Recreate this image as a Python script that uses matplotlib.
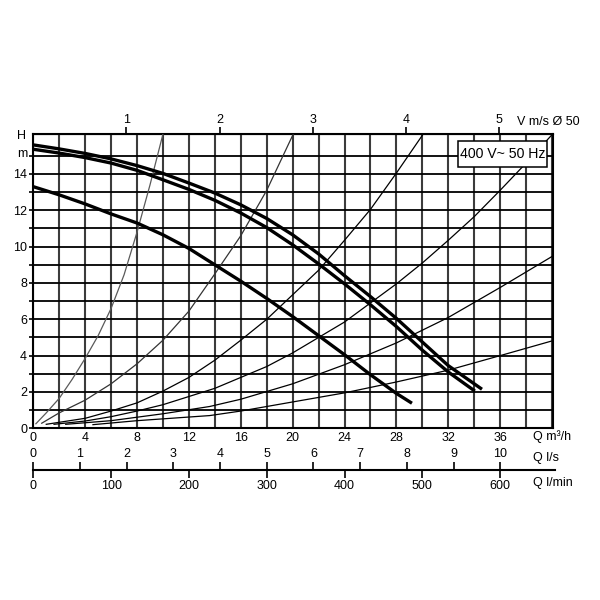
import numpy as np
import matplotlib
matplotlib.use('Agg')
from matplotlib import pyplot as plt
from matplotlib.patches import Rectangle

plt.rcParams['font.family'] = ['Liberation Sans', 'DejaVu Sans']

# pump curves, Q in m3/h, H in m
q_a = [0, 2, 4, 6, 8, 10, 12, 14, 16, 18, 20, 22, 24, 26, 28, 30, 32, 34.6]
h_a = [15.6, 15.38, 15.13, 14.83, 14.46, 14.03, 13.5, 12.95, 12.3, 11.55,
       10.65, 9.6, 8.4, 7.25, 6.05, 4.75, 3.45, 2.15]
q_b = [0, 2, 4, 6, 8, 10, 12, 14, 16, 18, 20, 22, 24, 26, 28, 30, 32, 34.05]
h_b = [15.36, 15.15, 14.9, 14.6, 14.2, 13.68, 13.15, 12.55, 11.85, 11.05,
       10.1, 9.05, 7.95, 6.8, 5.6, 4.3, 3.1, 2.05]
q_c = [0, 2, 4, 6, 8, 10, 12, 14, 16, 18, 20, 22, 24, 26, 28, 29.2]
h_c = [13.3, 12.85, 12.35, 11.8, 11.3, 10.65, 9.9, 9.0, 8.1, 7.15,
       6.15, 5.1, 4.05, 2.95, 1.92, 1.38]

# system curves (thin)
q_s1 = [0.2, 1.0, 2.0, 3.0, 4.0, 5.0, 6.0, 7.0, 8.0, 9.0, 10.0]
h_s1 = [0.25, 0.85, 1.65, 2.7, 3.85, 5.1, 6.6, 8.45, 10.8, 13.4, 16.2]
q_s2 = [0.65, 2, 4, 6, 8, 10, 12, 14, 16, 18, 20.05]
h_s2 = [0.28, 0.85, 1.55, 2.45, 3.55, 4.85, 6.45, 8.5, 10.6, 13.1, 16.2]
q_s3 = [1.0, 4, 6, 8, 10, 12, 14, 16, 18, 20, 22, 24, 26, 28, 30.07]
h_s3 = [0.22, 0.55, 0.95, 1.4, 2.05, 2.8, 3.75, 4.85, 6.0, 7.35, 8.7,
        10.35, 12.05, 14.05, 16.2]
q_s4 = [1.6, 4, 6, 8, 10, 12, 14, 16, 18, 20, 22, 24, 26, 28, 30, 32, 34,
        36, 38, 40.05]
h_s4 = [0.22, 0.4, 0.64, 0.95, 1.3, 1.75, 2.2, 2.8, 3.4, 4.15, 5.0, 5.85,
        6.9, 7.95, 9.1, 10.35, 11.65, 13.1, 14.6, 16.2]
q_s5 = [2.5, 6, 10, 13.6, 16, 20, 24, 28, 32, 36, 40.1]
h_s5 = [0.22, 0.42, 0.8, 1.2, 1.6, 2.45, 3.5, 4.7, 6.1, 7.75, 9.5]
q_s6 = [4.6, 8, 10, 13.6, 16, 20, 24, 28, 32, 36, 40.1]
h_s6 = [0.2, 0.42, 0.52, 0.7, 0.95, 1.45, 1.95, 2.55, 3.2, 4.0, 4.83]

q_ticks = [0, 4, 8, 12, 16, 20, 24, 28, 32, 36]
h_ticks = [0, 2, 4, 6, 8, 10, 12, 14]
v_ticks = [1, 2, 3, 4, 5]
ls_ticks = [0, 1, 2, 3, 4, 5, 6, 7, 8, 9, 10]
lmin_ticks = [0, 100, 200, 300, 400, 500, 600]

QMAX, HMAX = 40.1, 16.2
V_FACT = 7.18  # m3/h per m/s in DN50

fig = plt.figure(figsize=(6, 6), dpi=100)
px = lambda v: v / 600.0
L, R = px(33.3), px(553.3)
ax = fig.add_axes([L, 1 - px(428.3), R - L, px(428.3 - 134)])
ax.set_xlim(0, QMAX)
ax.set_ylim(0, HMAX)

ax.set_xticks(q_ticks)
ax.set_xticks(np.arange(0, 41, 2), minor=True)
ax.set_yticks(h_ticks)
ax.set_yticks(np.arange(0, 16, 1), minor=True)
ax.grid(which='both', axis='x', color='#3c3c3c', lw=1.5)
ax.grid(which='both', axis='y', color='k', lw=1.3)
ax.set_axisbelow(True)
for s in ax.spines.values():
    s.set_linewidth(1.5)
ax.tick_params(axis='x', which='both', length=0, pad=2.5, labelsize=9)
ax.tick_params(axis='y', which='both', length=3, width=1.2, pad=1.5,
               labelsize=9)

thin = dict(lw=0.9, zorder=3)
ax.plot(q_s1, h_s1, color='#5a5a5a', **thin)
ax.plot(q_s2, h_s2, color='#333333', **thin)
ax.plot(q_s3, h_s3, color='k', **thin)
ax.plot(q_s4, h_s4, color='k', **thin)
ax.plot(q_s5, h_s5, color='k', **thin)
ax.plot(q_s6, h_s6, color='k', **thin)

thick = dict(color='k', lw=2.4, solid_capstyle='butt', zorder=5)
ax.plot(q_a, h_a, **thick)
ax.plot(q_b, h_b, **thick)
ax.plot(q_c, h_c, **thick)

sec = ax.secondary_xaxis('top', functions=(lambda q: q / V_FACT,
                                           lambda v: v * V_FACT))
sec.set_xticks(v_ticks)
sec.tick_params(length=5, width=1.2, pad=1, labelsize=9)

fig.text(px(517), 1 - px(122), 'V m/s Ø 50', ha='left', va='center',
         fontsize=9)
fig.text(px(22), 1 - px(136), 'H', ha='center', va='center', fontsize=9)
fig.text(px(22), 1 - px(154), 'm', ha='center', va='center', fontsize=9)

# voltage box
fig.patches.append(Rectangle((px(458), 1 - px(167)), px(89), px(26),
                             transform=fig.transFigure, fc='white', ec='k',
                             lw=1.1, zorder=10))
fig.text(px(502.5), 1 - px(154), '400 V~ 50 Hz', ha='center', va='center',
         fontsize=10.2, zorder=11)

# flow scales in l/s and l/min
qline = 40.22
axs = fig.add_axes([L, 1 - px(470), px(555 - 33.3), 0.0001])
axs.set_xlim(0, qline / 3.6)
axs.set_xticks(ls_ticks)
axs.xaxis.set_ticks_position('top')
axs.tick_params(axis='x', length=6, width=1.2, pad=1, labelsize=9)
axs.set_yticks([])
for s in axs.spines.values():
    s.set_visible(False)
axs.patch.set_visible(False)

axm = fig.add_axes([L, 1 - px(470), px(555 - 33.3), 0.0001])
axm.set_xlim(0, qline * 1000 / 60)
axm.set_xticks(lmin_ticks)
axm.tick_params(axis='x', length=6, width=1.2, pad=1, labelsize=9)
axm.set_yticks([])
for k, s in axm.spines.items():
    s.set_visible(k == 'bottom')
axm.spines['bottom'].set_linewidth(1.5)
axm.patch.set_visible(False)

fig.text(px(533), 1 - px(437), 'Q m³/h', ha='left', va='center', fontsize=9)
fig.text(px(533), 1 - px(458), 'Q l/s', ha='left', va='center', fontsize=9)
fig.text(px(533), 1 - px(483), 'Q l/min', ha='left', va='center', fontsize=9)

fig.savefig('out.png', dpi=100)
